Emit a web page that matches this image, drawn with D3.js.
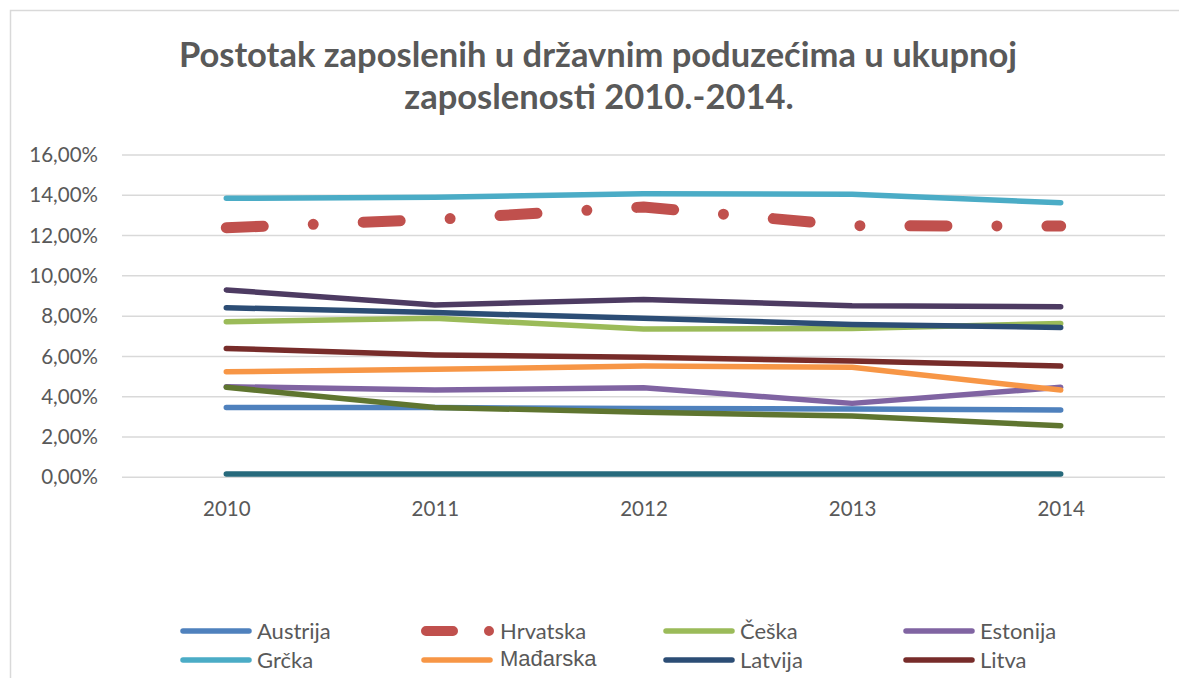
<!DOCTYPE html>
<html lang="hr">
<head>
    <meta charset="UTF-8">
    <title>Postotak zaposlenih u državnim poduzećima</title>
    <script src="https://d3js.org/d3.v7.min.js"></script>
    <style>
        body { margin: 0; background: #fff; }
        svg { display: block; font-family: Lato, "Open Sans", sans-serif; }
    </style>
</head>
<body>
<svg width="1179" height="678"></svg>
<script>
    // podaci ocitani s grafikona (postotak zaposlenih u drzavnim poduzecima)
    const years = ["2010", "2011", "2012", "2013", "2014"];
    const countries = ["Austrija", "Hrvatska", "Češka", "Estonija", "Grčka", "Mađarska",
                       "Latvija", "Litva", "Poljska", "Slovačka", "Slovenija"];
    const austrija  = [3.47, 3.46, 3.41, 3.39, 3.34];
    const hrvatska  = [12.39, 12.80, 13.42, 12.49, 12.47];
    const ceska     = [7.72, 7.89, 7.36, 7.39, 7.64];
    const estonija  = [4.50, 4.33, 4.45, 3.67, 4.47];
    const grcka     = [13.85, 13.90, 14.08, 14.05, 13.63];
    const madarska  = [5.24, 5.36, 5.52, 5.46, 4.33];
    const latvija   = [8.42, 8.18, 7.89, 7.59, 7.44];
    const litva     = [6.40, 6.07, 5.96, 5.77, 5.52];
    const poljska   = [4.47, 3.47, 3.23, 3.04, 2.56];
    const slovacka  = [9.30, 8.55, 8.83, 8.52, 8.47];
    const slovenija = [0.16, 0.16, 0.16, 0.16, 0.16];
    const yTicks = [0, 2, 4, 6, 8, 10, 12, 14, 16];
    const colors = ["#4f81bd", "#c0504d", "#9bbb59", "#8064a2", "#4bacc6", "#f79646",
                    "#2c4d75", "#772c2a", "#5f7530", "#4d3b62", "#276a7c"];

    const values = [austrija, hrvatska, ceska, estonija, grcka, madarska,
                    latvija, litva, poljska, slovacka, slovenija];
    const series = countries.map((c, i) => ({ name: c, color: colors[i], values: values[i] }));

    const svg = d3.select("svg");
    const grey = "#595959";

    // okvir grafikona
    svg.append("rect")
        .attr("x", 10.5).attr("y", 10.5)
        .attr("width", 1300).attr("height", 800)
        .attr("fill", "none").attr("stroke", "#d9d9d9").attr("stroke-width", 1.5);

    // naslov
    const title = svg.append("text")
        .attr("text-anchor", "middle")
        .attr("fill", grey)
        .attr("font-weight", "bold")
        .attr("font-size", 34.5);
    title.append("tspan").attr("x", 598).attr("y", 66.5)
        .text("Postotak zaposlenih u državnim poduzećima u ukupnoj");
    title.append("tspan").attr("x", 599).attr("y", 108.5)
        .text("zaposlenosti 2010.-2014.");

    const x = d3.scalePoint()
        .domain(years)
        .range([122, 1165])
        .padding(0.5);

    const y = d3.scaleLinear()
        .domain([0, 16])
        .range([477.3, 155]);

    const hr = d3.formatLocale({ decimal: ",", thousands: ".", grouping: [3], currency: ["", " kn"] });
    const fmt = v => hr.format(".2f")(v) + "%";

    // mreza
    svg.append("g")
        .selectAll("line")
        .data(yTicks)
        .join("line")
        .attr("x1", 122).attr("x2", 1165)
        .attr("y1", d => y(d)).attr("y2", d => y(d))
        .attr("stroke", "#d9d9d9").attr("stroke-width", 1.5);

    // os y
    const yAxis = svg.append("g")
        .attr("transform", "translate(98,0)")
        .call(d3.axisLeft(y).tickValues(yTicks).tickFormat(fmt).tickSize(0).tickPadding(0));
    yAxis.select(".domain").remove();
    yAxis.selectAll("text")
        .attr("fill", grey).attr("font-size", 20.5)
        .attr("font-family", "Lato, sans-serif");

    // os x
    const xAxis = svg.append("g")
        .attr("transform", "translate(0,501)")
        .call(d3.axisBottom(x).tickSize(0).tickPadding(0));
    xAxis.select(".domain").remove();
    xAxis.selectAll("text")
        .attr("fill", grey).attr("font-size", 20.5)
        .attr("font-family", "Lato, sans-serif");

    const line = d3.line()
        .x((d, i) => x(years[i]))
        .y(d => y(d));

    svg.append("g")
        .selectAll("path")
        .data(series)
        .join("path")
        .attr("d", d => line(d.values))
        .attr("fill", "none")
        .attr("stroke", d => d.color)
        .attr("stroke-width", d => d.name === "Hrvatska" ? 11 : 5.5)
        .attr("stroke-dasharray", d => d.name === "Hrvatska" ? "37,50,0,50" : null)
        .attr("stroke-linecap", "round")
        .attr("stroke-linejoin", "round");

    // legenda (vidljiva su samo prva dva reda)
    const colX = [180, 421, 663, 903];
    const rowY = [631, 660];
    const legend = svg.append("g")
        .selectAll("g")
        .data(series.slice(0, 8))
        .join("g")
        .attr("transform", (d, i) => `translate(${colX[i % 4]},${rowY[Math.floor(i / 4)]})`);

    legend.append("line")
        .attr("x1", d => d.name === "Hrvatska" ? 5 : 3)
        .attr("x2", d => d.name === "Hrvatska" ? 72 : 69)
        .attr("y1", 0).attr("y2", 0)
        .attr("stroke", d => d.color)
        .attr("stroke-width", d => d.name === "Hrvatska" ? 10 : 5.5)
        .attr("stroke-dasharray", d => d.name === "Hrvatska" ? "27,36,0,100" : null)
        .attr("stroke-linecap", "round");

    legend.append("text")
        .attr("x", d => d.name === "Hrvatska" || d.name === "Mađarska" ? 79 : 77)
        .attr("y", d => d.name === "Mađarska" ? -2 : 0)
        .attr("dy", "0.36em")
        .attr("fill", grey)
        .attr("font-size", d => d.name === "Mađarska" ? 22 : 22)
        .attr("font-family", d => d.name === "Mađarska" ? "'Liberation Sans', Arial, sans-serif" : "Lato, sans-serif")
        .text(d => d.name);
</script>
</body>
</html>
